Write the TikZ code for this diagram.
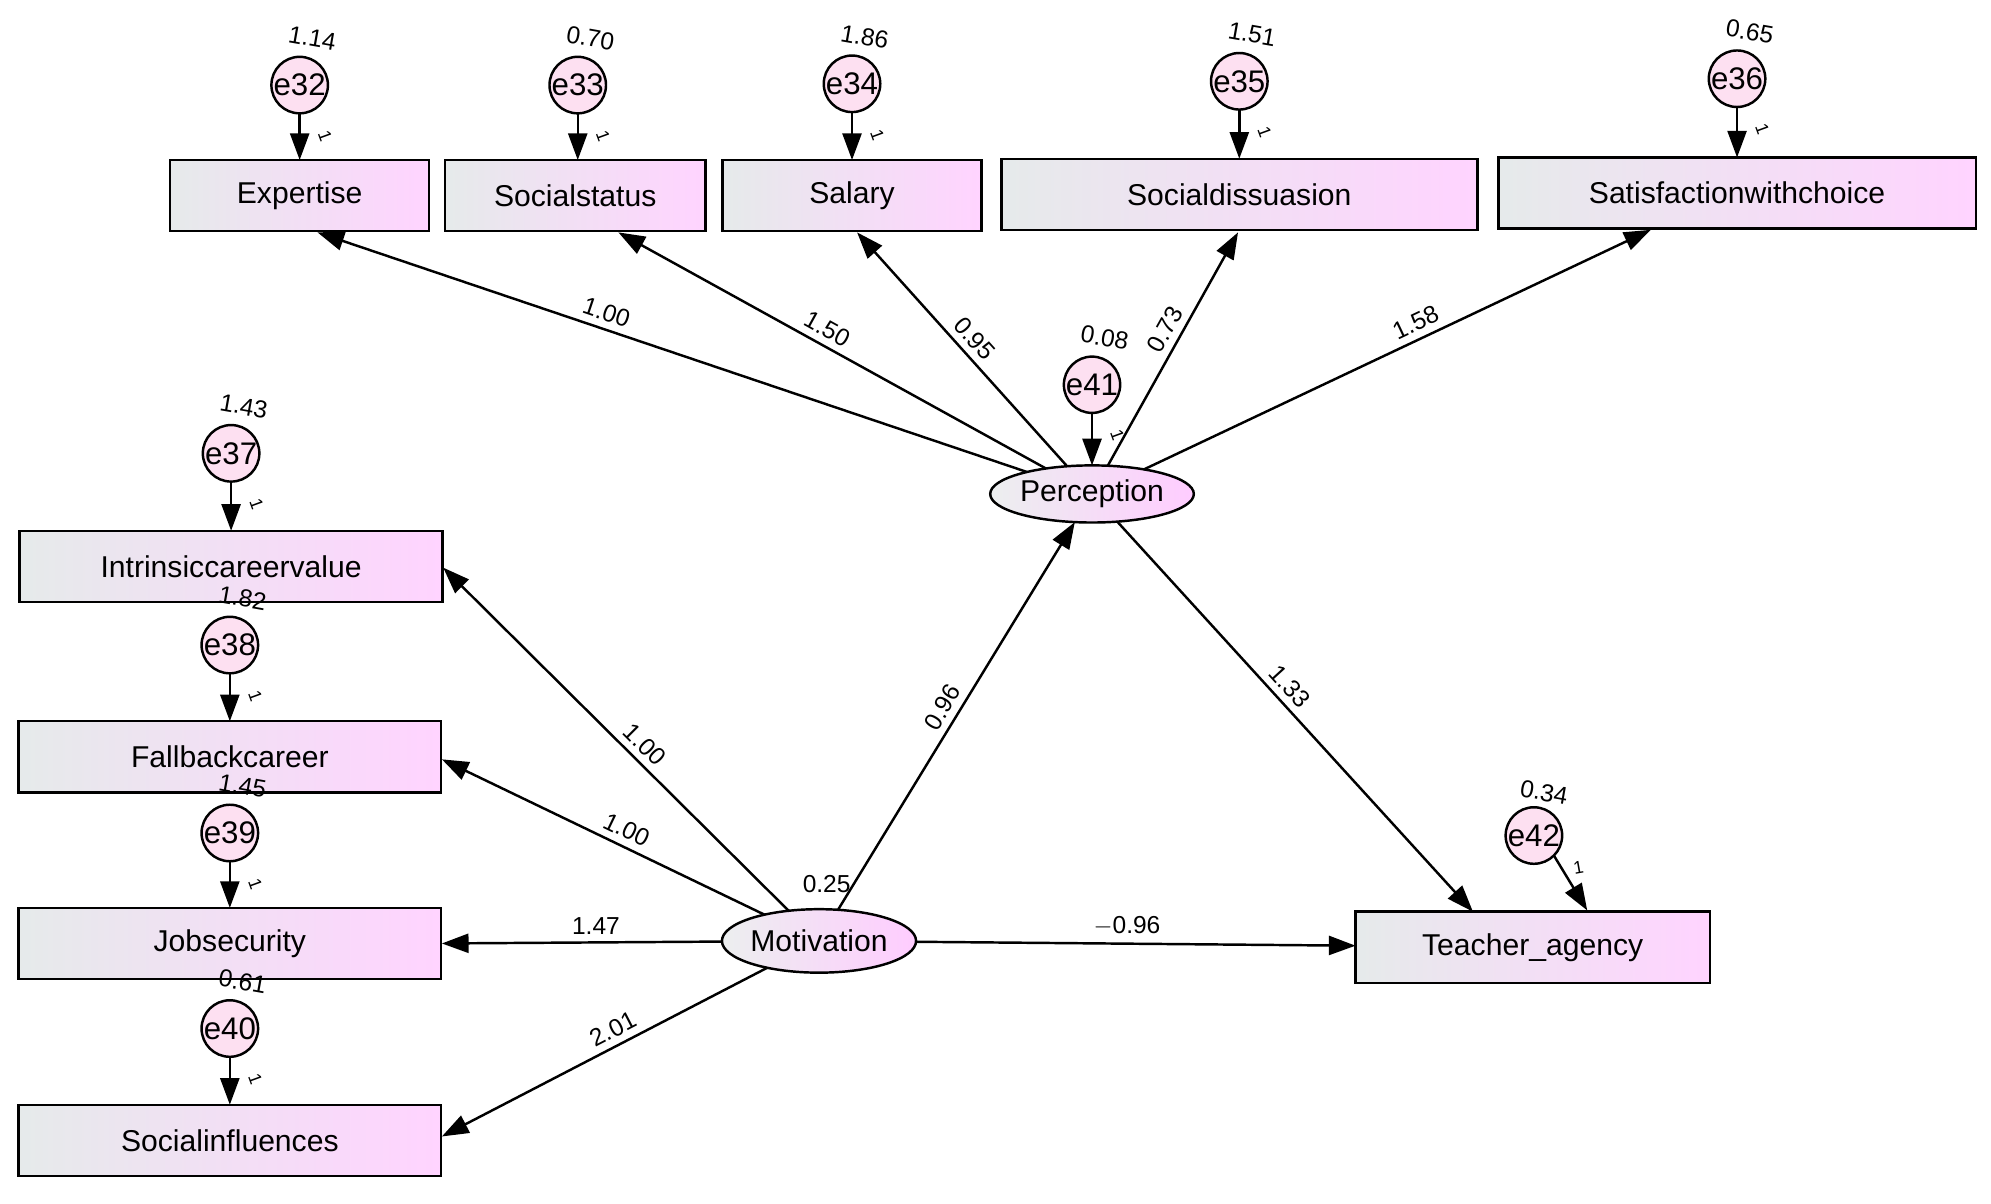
\documentclass[tikz,border=0pt]{standalone}
\usepackage{fontspec}
\setmainfont{Liberation Sans}
\usetikzlibrary{arrows.meta,shapes.geometric}

\tikzset{
  obs/.style={draw, line width=1.1pt, left color=cyan!10!gray!18, right color=magenta!17, inner sep=0pt, outer sep=0pt,
    minimum height=1.12cm, font=\fontsize{13.5}{15}\selectfont},
  lat/.style={draw, line width=1.1pt, ellipse, left color=cyan!8!gray!14, right color=magenta!20, inner sep=0pt, outer sep=0pt,
    minimum width=2.72cm, minimum height=0.9cm, font=\fontsize{13.5}{15}\selectfont},
  err/.style={draw, line width=1.1pt, circle, fill=magenta!12, inner sep=0pt, outer sep=0pt, minimum size=0.88cm,
    font=\fontsize{14}{15}\selectfont},
  num/.style={font=\fontsize{11}{12}\selectfont, inner sep=3pt},
  one/.style={font=\fontsize{8}{9}\selectfont, inner sep=0pt, rotate=-70},
  path/.style={-{Triangle[length=0.42cm,width=0.3cm]}, line width=1.1pt},
}

\begin{document}
\begin{tikzpicture}[x=0.02cm,y=-0.02cm]
\useasboundingbox (0,0) rectangle (1568,948);

% observed variables
\node[obs, minimum width=4.08cm] (expe) at (236,154) {Expertise};
\node[obs, minimum width=4.10cm] (stat) at (453,154) {Socialstatus};
\node[obs, minimum width=4.08cm] (sala) at (671,154) {Salary};
\node[obs, minimum width=7.50cm] (diss) at (976,153) {Socialdissuasion};
\node[obs, minimum width=7.52cm] (sati) at (1368,152) {Satisfactionwithchoice};
\node[obs, minimum width=6.66cm] (intr) at (182,446) {Intrinsiccareervalue};
\node[obs, minimum width=6.66cm] (fall) at (181,596) {Fallbackcareer};
\node[obs, minimum width=6.66cm] (jobs) at (181,743) {Jobsecurity};
\node[obs, minimum width=6.66cm] (infl) at (181,898) {Socialinfluences};
\node[obs, minimum width=5.58cm] (teach) at (1207,746) {Teacher\_agency};

% latent variables
\node[lat] (perc) at (860,389) {Perception};
\node[lat, minimum height=1.0cm] (moti) at (645,741) {Motivation};

% error terms
\foreach \n/\x/\y/\v/\t in {e32/236/67/1.14/expe, e33/455/67/0.70/stat, e34/671/66/1.86/sala,
    e35/976/64/1.51/diss, e36/1368/62/0.65/sati, e41/860/303/0.08/perc,
    e37/182/357/1.43/intr, e38/181/508/1.82/fall, e39/181/656/1.45/jobs, e40/181/810/0.61/infl} {
  \node[err] (\n) at (\x,\y) {\n};
  \node[num, rotate=-10] at (\x+10,\y-37) {\v};
  \draw[path] (\n.south) -- (\n.south |- \t.north);
  \node[one] at (\x+20,\y+40) {1};
}
\node[err] (e42) at (1208,658) {e42};
\node[num, rotate=-10] at (1216,624) {0.34};
\draw[path] (e42.south east) -- (1250,717);
\node[one, rotate=80] at (1243,683) {1};

% structural paths
\draw[path] (perc) -- (250,183) node[num, pos=0.6, sloped, above] {1.00};
\draw[path] (perc) -- (487,183) node[num, pos=0.53, sloped, above] {1.50};
\draw[path] (perc) -- (675,183) node[num, pos=0.5, sloped, above] {0.95};
\draw[path] (perc) -- (975,183) node[num, pos=0.55, sloped, above] {0.73};
\draw[path] (perc) -- (1300,181) node[num, pos=0.55, sloped, above] {1.58};
\draw[path] (perc) -- (1160,718) node[num, pos=0.45, sloped, above] {1.33};
\draw[path] (moti) -- (perc) node[num, pos=0.5, sloped, above] {0.96};
\draw[path] (moti) -- (349,447) node[num, pos=0.45, sloped, above] {1.00};
\draw[path] (moti) -- (348,598) node[num, pos=0.45, sloped, above] {1.00};
\draw[path] (moti) -- (348,743) node[num, pos=0.45, above] {1.47};
\draw[path] (moti) -- (348,895) node[num, pos=0.45, sloped, above] {2.01};
\draw[path] (moti) -- (teach) node[num, pos=0.48, above] {$-$0.96};
\node[num] at (651,696) {0.25};

\end{tikzpicture}
\end{document}
